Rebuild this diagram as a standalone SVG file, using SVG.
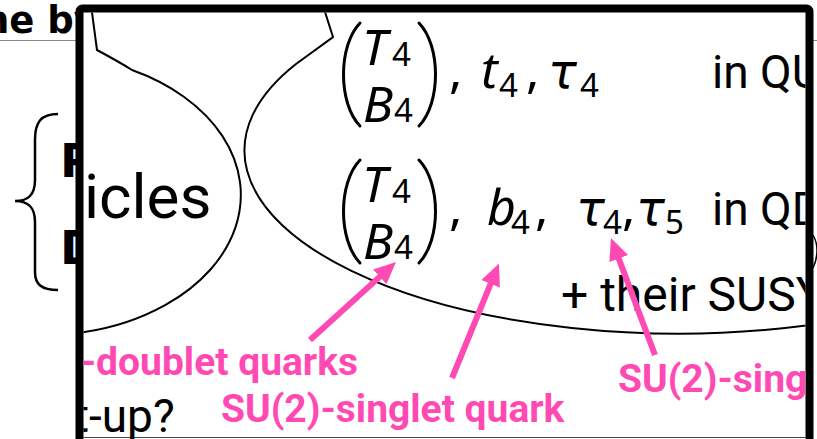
<svg xmlns="http://www.w3.org/2000/svg" width="817" height="439" viewBox="0 0 817 439">
<style>
.bg{font-family:"DejaVu Sans",sans-serif;font-weight:bold;fill:#000}
.rb{font-family:Roboto,"Liberation Sans",sans-serif;fill:#000}
.mi{font-family:"Noto Sans","DejaVu Sans",sans-serif;font-style:italic;font-size:50px;fill:#000}
.gr{font-family:"DejaVu Sans",sans-serif;font-style:oblique;font-size:48px;fill:#000}
.mu{font-family:"Noto Sans","DejaVu Sans",sans-serif;font-size:50px;fill:#000}
.sub{font-family:"Noto Sans","DejaVu Sans",sans-serif;font-size:33px;fill:#000}
.pk{font-family:Roboto,"Liberation Sans",sans-serif;font-weight:bold;font-size:39px;fill:#ff4ab4}
.ln{fill:none;stroke:#000;stroke-width:2}
.par{fill:none;stroke:#000;stroke-width:3;stroke-linecap:round}
.arr{stroke:#ff4ab4;stroke-width:6;fill:none;marker-end:url(#ah)}
</style>
<defs>
<clipPath id="inner"><rect x="83.5" y="12.5" width="722" height="430"/></clipPath>
<marker id="ah" markerUnits="userSpaceOnUse" viewBox="0 0 22 20" refX="10" refY="10" markerWidth="22" markerHeight="20" orient="auto"><path d="M0,0 L22,10 L0,20 z" fill="#ff4ab4"/></marker>
</defs>
<rect width="817" height="439" fill="#fff"/>
<g id="background">
<text class="bg" x="-17" y="33" font-size="37">ne by</text>
<line x1="0" y1="40.5" x2="817" y2="40.5" stroke="#888" stroke-width="1"/>
<path d="M58,114 C41,114 35,122 35,140 L35,180 C35,194 29,201 15,201 C29,201 35,208 35,222 L35,272 C35,284 41,290 58,290" fill="none" stroke="#000" stroke-width="2.5"/>
<text class="bg" x="60" y="177" font-size="47">P</text>
<text class="bg" x="60" y="264" font-size="47">D</text>
<path d="M813,235 C817,242 817,246 817,250 C817,256 816,262 813,268" fill="none" stroke="#000" stroke-width="1.5"/>
</g>
<rect id="frame" x="79.5" y="8.5" width="730" height="440" rx="3" fill="#fff" stroke="#000" stroke-width="8"/>
<g clip-path="url(#inner)">
<line x1="83" y1="437.5" x2="806" y2="437.5" stroke="#444" stroke-width="1"/>
<g id="particles-bubble">
<path class="ln" d="M89,-10 L97,50 C110,57 121,63 132,70 A198 140 0 0 1 42,335"/>
<text class="rb" x="84" y="218" font-size="62">icles</text>
</g>
<g id="content-bubble">
<path class="ln" d="M318,-10 L333,37 L296,64 A434 183 0 0 0 830,322"/>
</g>
<g id="row1">
<path class="par" d="M360,23 C338,46 338,103 360,126"/>
<path class="par" d="M419,23 C441,46 441,103 419,126"/>
<text class="mi" x="362" y="65">T</text><text class="sub" x="392" y="66">4</text>
<text class="mi" x="363" y="122">B</text><text class="sub" x="394" y="122">4</text>
<text class="mu" x="449" y="88">,</text>
<text class="mi" x="481" y="88">t</text><text class="sub" x="499" y="97">4</text>
<text class="mu" x="526" y="88">,</text>
<text class="gr" x="548" y="88">τ</text><text class="sub" x="580" y="97">4</text>
<text class="rb" x="712" y="88" font-size="46">in QU</text>
</g>
<g id="row2">
<path class="par" d="M360,160 C338,183 338,240 360,263"/>
<path class="par" d="M419,160 C441,183 441,240 419,263"/>
<text class="mi" x="362" y="202">T</text><text class="sub" x="392" y="203">4</text>
<text class="mi" x="363" y="259">B</text><text class="sub" x="394" y="259">4</text>
<text class="mu" x="449" y="225">,</text>
<text class="mi" x="487" y="225">b</text><text class="sub" x="511" y="234">4</text>
<text class="mu" x="535" y="225">,</text>
<text class="gr" x="576" y="225">τ</text><text class="sub" x="603" y="234">4</text>
<text class="mu" x="622" y="225">,</text>
<text class="gr" x="636" y="225">τ</text><text class="sub" x="665" y="234">5</text>
<text class="rb" x="712" y="225" font-size="46">in QD</text>
<text class="rb" x="561" y="311" font-size="48">+ their SUSY</text>
</g>
<g id="labels">
<text class="pk" x="358" y="375" text-anchor="end">-doublet quarks</text>
<text class="pk" x="221" y="422">SU(2)-singlet quark</text>
<text class="pk" x="618" y="392">SU(2)-sing</text>
<text class="rb" x="74" y="432" font-size="46">t-up?</text>
</g>
<g id="connectors">
<line class="arr" x1="310" y1="340" x2="387.1" y2="270.1"/>
<line class="arr" x1="452" y1="378" x2="494.4" y2="274.6"/>
<line class="arr" x1="655" y1="355" x2="615.2" y2="249.2"/>
</g>
</g>
</svg>
